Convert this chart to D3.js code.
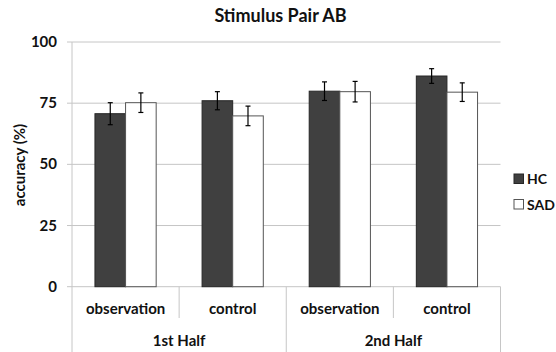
<!DOCTYPE html>
<html>
<head>
<meta charset="utf-8">
<script src="https://cdn.jsdelivr.net/npm/d3@7"></script>
<style>
  body { margin: 0; background: #fff; }
  text { font-family: Lato, "Open Sans", sans-serif; font-weight: bold; fill: #111; }
</style>
</head>
<body>
<div id="chart-area"></div>
<script>
var groups = ["1st Half", "2nd Half"];
var conditions = ["observation", "control"];
var series = ["HC", "SAD"];
var hcValues = [70.7, 76.0, 79.9, 86.1];
var hcErrors = [4.5, 3.7, 3.8, 3.0];
var sadValues = [75.2, 69.8, 79.7, 79.5];
var sadErrors = [4.0, 4.0, 4.2, 3.8];
var yTicks = [0, 25, 50, 75, 100];

var W = 556, H = 352;
var plotLeft = 72, plotRight = 500.5, plotTop = 42, plotBottom = 286.7;

// Categorías: grupo + condición
var cats = [];
groups.forEach(g => conditions.forEach(c => cats.push(g + "|" + c)));

var rows = cats.map((k, i) => ({
    key: k,
    vals: [
        {s: "HC", v: hcValues[i], e: hcErrors[i]},
        {s: "SAD", v: sadValues[i], e: sadErrors[i]}
    ]
}));

var svg = d3.select("#chart-area").append("svg")
    .attr("width", W)
    .attr("height", H);

var y = d3.scaleLinear().domain([0, 100]).range([plotBottom, plotTop]);
var x = d3.scaleBand().domain(cats).range([plotLeft, plotRight]).paddingInner(0).paddingOuter(0);
var xs = d3.scaleBand().domain(series).range([0, x.bandwidth()]).paddingInner(0).paddingOuter(0.75);
var xg = d3.scaleBand().domain(groups).range([plotLeft, plotRight]);

var fill = {HC: "#404040", SAD: "#ffffff"};
var stroke = {HC: "#262626", SAD: "#555555"};

// Líneas de guía
svg.selectAll("line.grid")
    .data(yTicks)
    .enter()
    .append("line")
    .attr("class", "grid")
    .attr("x1", plotLeft - 5)
    .attr("x2", plotRight)
    .attr("y1", d => y(d))
    .attr("y2", d => y(d))
    .attr("stroke", "#c6c6c6")
    .attr("stroke-width", 1);

// Eje Y
svg.append("line")
    .attr("x1", plotLeft).attr("x2", plotLeft)
    .attr("y1", plotTop).attr("y2", plotBottom)
    .attr("stroke", "#c6c6c6");

svg.selectAll("text.ytick")
    .data(yTicks)
    .enter()
    .append("text")
    .attr("class", "ytick")
    .attr("x", 57)
    .attr("y", d => y(d) + 5)
    .attr("text-anchor", "end")
    .attr("font-size", "15px")
    .text(d => d);

// Barras
var cat = svg.selectAll("g.cat")
    .data(rows)
    .enter()
    .append("g")
    .attr("class", "cat")
    .attr("transform", d => "translate(" + x(d.key) + ",0)");

cat.selectAll("rect")
    .data(d => d.vals)
    .enter()
    .append("rect")
    .attr("x", d => xs(d.s))
    .attr("y", d => y(d.v))
    .attr("width", xs.bandwidth())
    .attr("height", d => plotBottom - y(d.v))
    .attr("fill", d => fill[d.s])
    .attr("stroke", d => stroke[d.s])
    .attr("stroke-width", 1);

// Barras de error
var err = cat.selectAll("g.err")
    .data(d => d.vals)
    .enter()
    .append("g")
    .attr("class", "err")
    .attr("stroke", "#000")
    .attr("stroke-width", 1.2);

err.append("line")
    .attr("x1", d => xs(d.s) + xs.bandwidth() / 2)
    .attr("x2", d => xs(d.s) + xs.bandwidth() / 2)
    .attr("y1", d => y(d.v + d.e))
    .attr("y2", d => y(d.v - d.e));
[1, -1].forEach(sign => {
    err.append("line")
        .attr("x1", d => xs(d.s) + xs.bandwidth() / 2 - 2.5)
        .attr("x2", d => xs(d.s) + xs.bandwidth() / 2 + 2.5)
        .attr("y1", d => y(d.v + sign * d.e))
        .attr("y2", d => y(d.v + sign * d.e));
});

// Eje X jerárquico
svg.selectAll("line.catsep")
    .data(cats.concat(["end"]))
    .enter()
    .append("line")
    .attr("class", "catsep")
    .attr("x1", (d, i) => plotLeft + i * x.bandwidth())
    .attr("x2", (d, i) => plotLeft + i * x.bandwidth())
    .attr("y1", plotBottom)
    .attr("y2", (d, i) => i % 2 === 0 ? H : 318)
    .attr("stroke", "#c6c6c6");

svg.selectAll("text.cat")
    .data(cats)
    .enter()
    .append("text")
    .attr("class", "cat")
    .attr("x", d => x(d) + x.bandwidth() / 2)
    .attr("y", 314)
    .attr("text-anchor", "middle")
    .attr("font-size", "15px")
    .text(d => d.split("|")[1]);

svg.selectAll("text.grp")
    .data(groups)
    .enter()
    .append("text")
    .attr("class", "grp")
    .attr("x", d => xg(d) + xg.bandwidth() / 2)
    .attr("y", 345.5)
    .attr("text-anchor", "middle")
    .attr("font-size", "15px")
    .text(d => d);

// Leyenda
var leg = svg.selectAll("g.leg")
    .data(series)
    .enter()
    .append("g")
    .attr("class", "leg")
    .attr("transform", (d, i) => "translate(514," + (174 + i * 25.5) + ")");

leg.append("rect")
    .attr("width", 9.5)
    .attr("height", 9.5)
    .attr("fill", d => fill[d])
    .attr("stroke", d => stroke[d]);

leg.append("text")
    .attr("x", 13)
    .attr("y", 10)
    .attr("font-size", "14px")
    .text(d => d);

// Título del eje Y
svg.append("text")
    .attr("transform", "translate(25," + 165 + ") rotate(-90)")
    .attr("text-anchor", "middle")
    .attr("font-size", "15px")
    .text("accuracy (%)");

// Título
svg.append("text")
    .attr("x", 280.5)
    .attr("y", 22)
    .attr("text-anchor", "middle")
    .attr("font-size", "18px")
    .text("Stimulus Pair AB");
</script>
</body>
</html>
